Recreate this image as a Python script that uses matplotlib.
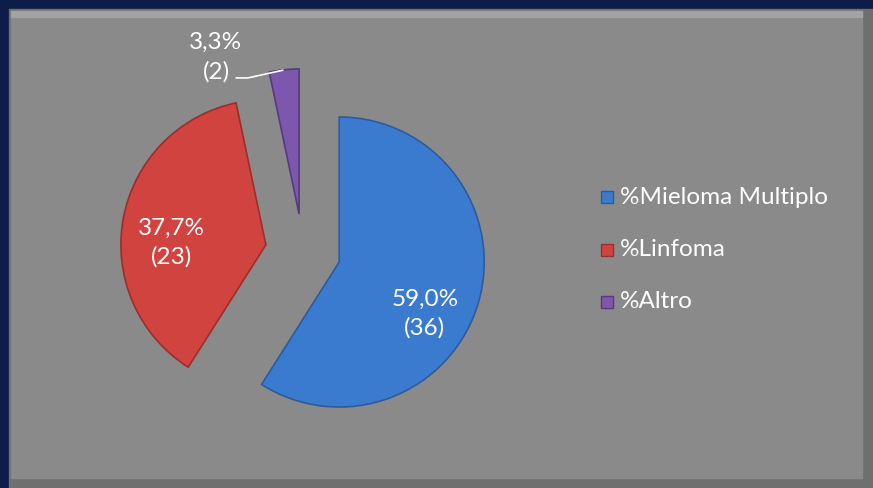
import matplotlib
matplotlib.use("Agg")
import matplotlib.pyplot as plt
from matplotlib.patches import Rectangle

# data
categories = ['%Mieloma Multiplo', '%Linfoma', '%Altro']
percent = [59.0, 37.7, 3.3]
counts = [36, 23, 2]
colors = ['#3a7bd0', '#d0433f', '#7c57ad']
edge_colors = ['#2b5c9c', '#9c2e2b', '#58397f']

plt.rcParams['font.family'] = ['Lato', 'DejaVu Sans']

W, H = 873, 488
fig = plt.figure(figsize=(W / 100, H / 100), dpi=100)
fig.patch.set_facecolor('#0b1d48')

# gray panel with simple bevel
bg = fig.add_axes([0, 0, 1, 1])
bg.set_xlim(0, W)
bg.set_ylim(H, 0)
bg.axis('off')
bg.add_patch(Rectangle((9, 9), W - 9, H - 9, color='#6f6f6f', zorder=0))
bg.add_patch(Rectangle((11, 11), W - 22, H - 21, color='#8a8a8a', zorder=1))
bg.add_patch(Rectangle((11, 11), W - 22, 6, color='#a3a3a3', zorder=1))

# pie
R = 145
cx, cy = 303, 251.5
size = 3 * R
ax = fig.add_axes([(cx - size / 2) / W, (H - cy - size / 2) / H, size / W, size / H])

wedges, _ = ax.pie(percent, colors=colors, startangle=90, counterclock=False,
                   explode=[0.26] * 3, radius=1.0)
for w, ec in zip(wedges, edge_colors):
    w.set_edgecolor(ec)
    w.set_linewidth(1.2)
ax.set_xlim(-1.5, 1.5)
ax.set_ylim(-1.5, 1.5)
ax.set_aspect('equal')
ax.axis('off')

labels = [f"{p:.1f}%".replace('.', ',') + f"\n({c})" for p, c in zip(percent, counts)]
label_pos = [(0.84, -0.43), (-0.91, 0.06), (-0.6, 1.34)]
for (x, y), txt in zip(label_pos, labels):
    ax.text(x, y, txt, color='white', fontsize=17.5, ha='center', va='center',
            linespacing=1.45)

# leader line for the small slice
ax.plot([-0.46, -0.38, -0.14], [1.197, 1.197, 1.25], color='white', lw=1.2)

# legend
for i, (name, col, ec) in enumerate(zip(categories, colors, edge_colors)):
    y = 197 + i * 52.5
    bg.add_patch(Rectangle((601, y - 6), 12, 12, facecolor=col, edgecolor=ec, lw=1, zorder=3))
    bg.text(620, y, name, color='white', fontsize=17.5, va='center', ha='left', zorder=3)

fig.savefig('out.png', dpi=100, facecolor=fig.get_facecolor())
